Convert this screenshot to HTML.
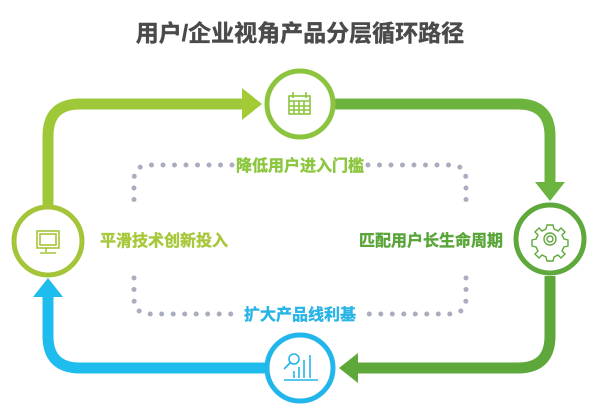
<!DOCTYPE html>
<html><head><meta charset="utf-8"><style>
html,body{margin:0;padding:0;background:#fff;}
svg{display:block}
text{font-family:"Liberation Sans","Noto Sans CJK SC",sans-serif;font-weight:bold;}
</style></head><body>
<svg width="600" height="414" viewBox="0 0 600 414" xmlns="http://www.w3.org/2000/svg">
<rect width="600" height="414" fill="#fff"/>
<text x="300" y="41" text-anchor="middle" font-size="23" fill="#4a4a4a" stroke="#4a4a4a" stroke-width="0.4">用户/企业视角产品分层循环路径</text>

<!-- dotted frames -->
<g fill="none" stroke="#a9adbd" stroke-width="5" stroke-linecap="round" stroke-dasharray="0 11.5">
<path d="M232 165 H150 Q134 165 134 180 V202"/>
<path d="M368 165 H450 Q466 165 466 180 V202"/>
<path d="M134 278 V298 Q134 314 150 314 H236"/>
<path d="M466 278 V298 Q466 314 450 314 H364"/>
</g>

<!-- connectors -->
<g fill="none" stroke-width="11">
<path d="M48 206 V136 Q48 104 80 104 H244" stroke="#9fc838"/>
<path d="M334 104 H518 Q550 104 550 136 V184" stroke="#6db43f"/>
<path d="M550 276 V336 Q550 368 518 368 H356" stroke="#5ea83b"/>
<path d="M266 368 H80 Q48 368 48 336 V296" stroke="#1fbcee"/>
</g>
<polygon points="242,88 262,104 242,120" fill="#a4cb36"/>
<polygon points="535,182 565,182 550,201" fill="#6ab43f"/>
<polygon points="358,353 358,383 339,368" fill="#5ea83b"/>
<polygon points="33,297 63,297 48,278" fill="#1fbcee"/>

<!-- circles -->
<g fill="#fff" stroke-width="5">
<circle cx="300" cy="104" r="33" stroke="#8cc43f"/>
<circle cx="48" cy="241" r="34" stroke="#a4c53a"/>
<circle cx="550" cy="239" r="34" stroke="#5fa83c"/>
<circle cx="300" cy="368" r="33" stroke="#22b6ea"/>
</g>

<!-- icons -->
<g fill="none" stroke="#8cc43f" stroke-width="1.6">
<rect x="289" y="96" width="21" height="18"/>
<path d="M289 101 H310 M289 106 H310 M289 110 H310 M294 101 V114 M299 101 V114 M304 101 V114"/>
<path d="M293 92 V98 M306 92 V98"/>
</g>
<g fill="none" stroke="#a4c53a" stroke-width="1.6">
<rect x="37" y="231" width="22" height="17"/>
<rect x="40" y="234" width="16" height="11"/>
<path d="M46 248 V252 M40 253 H56"/>
</g>
<g fill="none" stroke="#5fa83c" stroke-width="1.4">
<path d="M547 225 h6 l1 4 l4 2 l3 -3 l4 4 l-3 3 l2 4 l4 1 v6 l-4 1 l-2 4 l3 3 l-4 4 l-3 -3 l-4 2 l-1 4 h-6 l-1 -4 l-4 -2 l-3 3 l-4 -4 l3 -3 l-2 -4 l-4 -1 v-6 l4 -1 l2 -4 l-3 -3 l4 -4 l3 3 l4 -2 z"/>
<circle cx="550" cy="239" r="6"/><circle cx="550" cy="239" r="3"/>
</g>
<g fill="none" stroke="#22b6ea" stroke-width="1.6">
<circle cx="294" cy="359" r="5"/>
<path d="M290 363 L284 369 M284 380 H318 M294 378 V371 M299 378 V367 M304 378 V360 M310 378 V355"/>
</g>

<!-- labels -->
<g stroke-width="0.4">
<text x="300" y="171" text-anchor="middle" font-size="16" fill="#8cc63f" stroke="#8cc63f">降低用户进入门槛</text>
<text x="300" y="320" text-anchor="middle" font-size="16" fill="#28b4e6" stroke="#28b4e6">扩大产品线利基</text>
<text x="100" y="246" font-size="16" fill="#a6c83a" stroke="#a6c83a">平滑技术创新投入</text>
<text x="503" y="246" text-anchor="end" font-size="16" fill="#5aa53a" stroke="#5aa53a">匹配用户长生命周期</text>
</g>
</svg>
</body></html>
